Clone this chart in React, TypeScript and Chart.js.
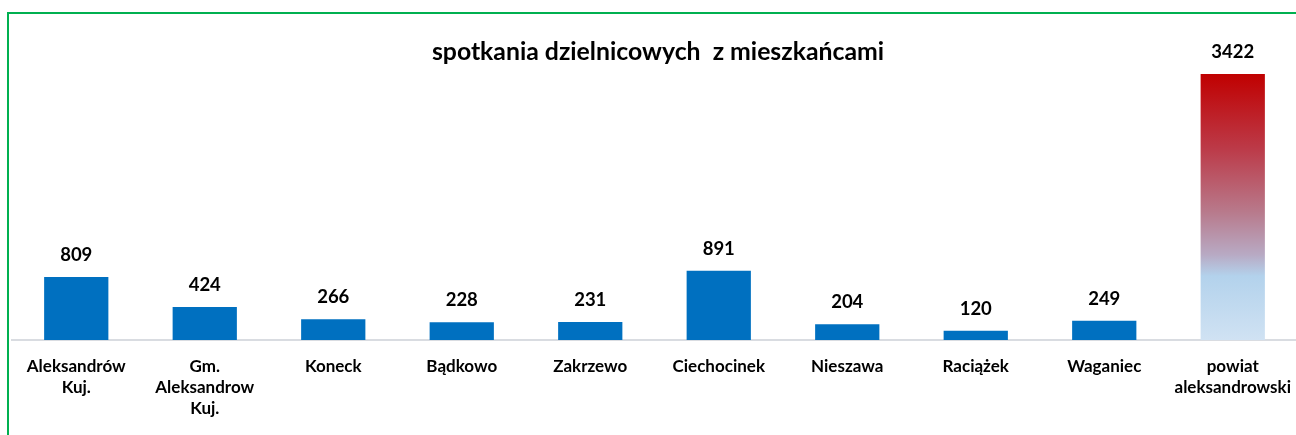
import React, { useEffect, useRef } from "react";
import { Chart, registerables } from "chart.js";

Chart.register(...registerables);

const categories: string[][] = [
  ["Aleksandrów", "Kuj."],
  ["Gm.", "Aleksandrow", "Kuj."],
  ["Koneck"],
  ["Bądkowo"],
  ["Zakrzewo"],
  ["Ciechocinek"],
  ["Nieszawa"],
  ["Raciążek"],
  ["Waganiec"],
  ["powiat", "aleksandrowski"],
];
const values: number[] = [809, 424, 266, 228, 231, 891, 204, 120, 249, 3422];
const chartTitle = "spotkania dzielnicowych  z mieszkańcami";
const yMax = 4000;

const FONT = "Lato, 'Open Sans', sans-serif";
const BLUE = "#0070C0";

const titlePlugin = {
  id: "customTitle",
  afterDraw(chart: any) {
    const ctx = chart.ctx;
    ctx.save();
    ctx.font = `bold 24.8px ${FONT}`;
    ctx.fillStyle = "#000000";
    ctx.textAlign = "center";
    ctx.textBaseline = "middle";
    ctx.fillText(chartTitle, 658, 52);
    ctx.restore();
  },
};

const valueLabelPlugin = {
  id: "valueLabels",
  afterDatasetsDraw(chart: any) {
    const ctx = chart.ctx;
    const meta = chart.getDatasetMeta(0);
    ctx.save();
    ctx.font = `bold 18.5px ${FONT}`;
    ctx.fillStyle = "#000000";
    ctx.textAlign = "center";
    ctx.textBaseline = "middle";
    meta.data.forEach((bar: any, i: number) => {
      ctx.fillText(String(values[i]), bar.x, bar.y - 22);
    });
    ctx.restore();
  },
};

export default function App() {
  const canvasRef = useRef<HTMLCanvasElement | null>(null);

  useEffect(() => {
    document.body.style.margin = "0";
    document.body.style.overflow = "hidden";
    const canvas = canvasRef.current;
    if (!canvas) return;
    const chart = new Chart(canvas, {
      type: "bar",
      data: {
        labels: categories,
        datasets: [
          {
            data: values,
            backgroundColor: (context: any) => {
              const i = context.dataIndex;
              if (i !== values.length - 1) return BLUE;
              const ch = context.chart;
              const { chartArea, scales } = ch;
              if (!chartArea || !scales || !scales.y) return BLUE;
              const top = scales.y.getPixelForValue(values[i]);
              const bottom = scales.y.getPixelForValue(0);
              const g = ch.ctx.createLinearGradient(0, top, 0, bottom);
              g.addColorStop(0, "#C00000");
              g.addColorStop(0.28, "#BC3A48");
              g.addColorStop(0.52, "#B87A8C");
              g.addColorStop(0.68, "#B8AAC4");
              g.addColorStop(0.76, "#B3D2EC");
              g.addColorStop(1, "#D0E2F3");
              return g;
            },
            barPercentage: 0.5,
            categoryPercentage: 1,
          },
        ],
      },
      plugins: [titlePlugin, valueLabelPlugin],
      options: {
        animation: false,
        responsive: false,
        maintainAspectRatio: false,
        layout: { padding: { top: 29, left: 12, right: 0, bottom: 0 } },
        plugins: {
          legend: { display: false },
          title: { display: false },
          tooltip: { enabled: false },
        },
        scales: {
          x: {
            grid: { display: false, drawTicks: true, tickLength: 16 },
            border: { display: true, color: "#D9DCE1", width: 2 },
            ticks: {
              color: "#000000",
              font: { family: FONT, weight: "bold", size: 17, lineHeight: 1.24 },
              padding: 0,
              maxRotation: 0,
              autoSkip: false,
            },
            afterFit: (scale: any) => {
              scale.height = 95;
            },
          },
          y: {
            display: false,
            min: 0,
            max: yMax,
          },
        },
      },
    });
    return () => chart.destroy();
  }, []);

  return (
    <div
      style={{
        position: "fixed",
        left: 0,
        top: 0,
        width: 1296,
        height: 435,
        overflow: "hidden",
        background: "#ffffff",
      }}
    >
      <canvas ref={canvasRef} width={1297} height={435} style={{ position: "absolute", left: 0, top: 0 }} />
      <div
        style={{
          position: "absolute",
          left: 7,
          top: 12,
          width: 1400,
          height: 500,
          borderTop: "2px solid #00B050",
          borderLeft: "2px solid #00B050",
          pointerEvents: "none",
        }}
      />
    </div>
  );
}
